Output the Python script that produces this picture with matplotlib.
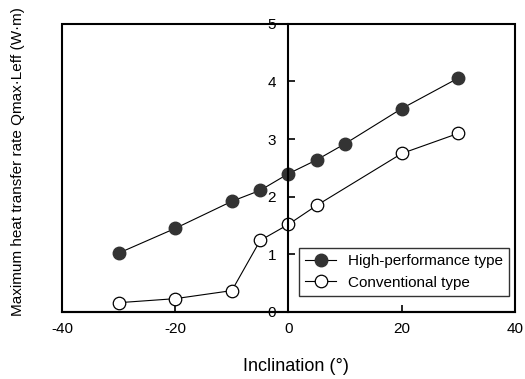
import matplotlib
matplotlib.use('Agg')
import matplotlib.pyplot as plt
from matplotlib.patches import Rectangle

plt.rcParams['font.family'] = ['Liberation Sans', 'DejaVu Sans']
plt.rcParams['axes.unicode_minus'] = False

# Данные
angles_high = [-30, -20, -10, -5, 0, 5, 10, 20, 30]
qmax_high = [1.02, 1.45, 1.92, 2.11, 2.40, 2.64, 2.92, 3.53, 4.06]

angles_conv = [-30, -20, -10, -5, 0, 5, 20, 30]
qmax_conv = [0.16, 0.23, 0.37, 1.24, 1.52, 1.85, 2.75, 3.10]

x_ticks = [-40, -20, 0, 20, 40]
y_ticks = [0, 1, 2, 3, 4, 5]

fig = plt.figure(figsize=(5.25, 3.79), dpi=100)
ax = fig.add_axes([0.118, 0.177, 0.863, 0.760])

ax.plot(angles_high, qmax_high, '-o', color='black', linewidth=0.8,
        markersize=9, markerfacecolor='#333333', markeredgecolor='#333333',
        label='High-performance type')
ax.plot(angles_conv, qmax_conv, '-o', color='black', linewidth=0.8,
        markersize=9, markerfacecolor='white', markeredgecolor='black',
        markeredgewidth=0.9, label='Conventional type')

ax.set_xlim(-40, 40)
ax.set_ylim(0, 5)
ax.set_xticks(x_ticks)
ax.set_yticks(y_ticks)

# Ось Y в центре (x=0), рамка вокруг
ax.spines['left'].set_position(('data', 0))
ax.spines['right'].set_visible(False)
ax.spines['top'].set_visible(False)
for s in ['left', 'bottom']:
    ax.spines[s].set_linewidth(1.5)
ax.add_patch(Rectangle((0, 0), 1, 1, transform=ax.transAxes, fill=False,
                       linewidth=1.5, edgecolor='black', clip_on=False, zorder=5))

ax.tick_params(axis='y', direction='in', length=5, width=1.2, labelsize=11, pad=9)
ax.tick_params(axis='x', direction='in', length=5, width=1.2, labelsize=11, pad=7)

leg = ax.legend(loc='lower right', bbox_to_anchor=(0.987, 0.056), borderaxespad=0,
                fontsize=11, frameon=True, fancybox=False, edgecolor='black',
                handlelength=2.0, borderpad=0.4, labelspacing=0.5)
leg.get_frame().set_linewidth(1.0)

fig.text(0.564, 0.032, 'Inclination (°)', ha='center', va='center', fontsize=13)
fig.text(0.034, 0.575, 'Maximum heat transfer rate Qmax·Leff (W·m)',
         rotation=90, ha='center', va='center', fontsize=11)

fig.savefig('out.png', dpi=100)
